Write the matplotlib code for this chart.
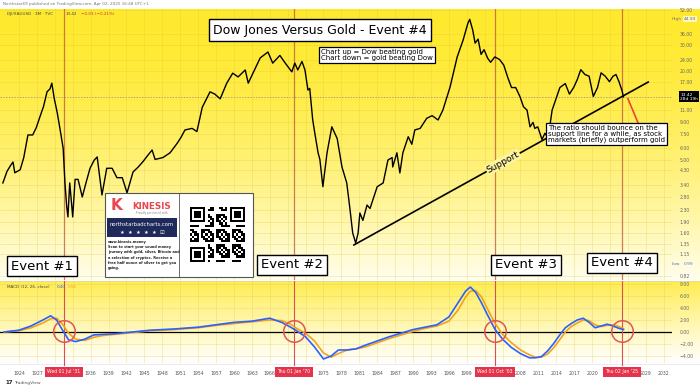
import numpy as np
import matplotlib.pyplot as plt
from matplotlib.patches import Rectangle
from matplotlib.ticker import NullLocator
from matplotlib.transforms import blended_transform_factory as blend

W, H = 700, 389

# DJI / XAUUSD ratio (decimal year, ratio)
years = [1921.3, 1922.0, 1922.6, 1923.0, 1923.3, 1924.2, 1924.8, 1925.5, 1926.3, 1926.9,
         1927.5, 1928.1, 1928.7, 1929.2, 1929.5, 1929.9, 1930.4, 1930.9, 1931.4, 1931.7,
         1932.0, 1932.2, 1932.5, 1933.0, 1933.4, 1933.9, 1934.6, 1935.3, 1935.9, 1936.6,
         1937.1, 1937.9, 1938.7, 1939.6, 1940.4, 1941.3, 1942.1, 1943.1, 1944.0, 1944.8,
         1945.6, 1946.3, 1946.8, 1948.1, 1949.3, 1950.5, 1951.2, 1951.8, 1953.0, 1953.8,
         1954.7, 1955.4, 1956.0, 1956.8, 1957.7, 1958.8, 1959.8, 1960.7, 1961.9, 1962.4,
         1963.2, 1964.4, 1965.7, 1966.5, 1967.7, 1968.6, 1969.7, 1970.2, 1970.7, 1971.4,
         1971.9, 1972.4, 1972.7, 1973.2, 1973.6, 1974.1, 1974.4, 1974.9, 1975.6, 1976.4,
         1977.3, 1978.1, 1978.9, 1979.4, 1979.9, 1980.4, 1980.8, 1981.1, 1981.6, 1982.3,
         1982.8, 1984.0, 1985.0, 1985.8, 1986.5, 1986.6, 1987.3, 1987.8, 1988.3, 1989.2,
         1989.8, 1990.3, 1991.2, 1992.3, 1993.2, 1994.2, 1995.0, 1996.2, 1997.4, 1998.4,
         1999.2, 1999.5, 2000.0, 2000.4, 2000.9, 2001.4, 2001.9, 2002.5, 2003.0, 2003.7,
         2004.5, 2005.2, 2005.9, 2006.5, 2007.2, 2007.9, 2008.5, 2009.1, 2009.6, 2010.1,
         2010.4, 2010.9, 2011.6, 2012.1, 2012.4, 2012.9, 2013.3, 2013.9, 2014.6, 2015.5,
         2016.2, 2016.9, 2017.5, 2018.1, 2018.8, 2019.5, 2020.2, 2020.9, 2021.5, 2022.2,
         2022.9, 2023.5, 2024.0, 2024.5, 2025.0, 2025.25]
ratio = [3.5, 4.2, 4.6, 4.85, 4.1, 4.3, 5.2, 7.4, 7.4, 8.3,
         9.8, 11.5, 14.5, 15.2, 16.6, 13.1, 10.5, 8.0, 6.0, 3.5,
         2.4, 2.06, 3.5, 2.06, 3.7, 3.7, 2.81, 3.6, 4.4, 5.0,
         5.25, 2.9, 4.4, 4.4, 3.8, 3.8, 3.0, 4.15, 4.5, 4.9,
         5.4, 5.85, 5.05, 5.2, 5.6, 6.5, 7.2, 8.0, 8.2, 7.8,
         11.4, 13.0, 14.5, 14.0, 13.0, 16.6, 19.4, 18.3, 20.4, 16.6,
         19.4, 24.6, 27.0, 22.7, 25.6, 22.7, 19.8, 22.7, 20.4, 23.3,
         20.4, 14.9, 15.3, 9.35, 7.4, 5.6, 5.05, 3.3, 5.6, 8.4,
         7.0, 4.49, 3.5, 2.4, 1.6, 1.37, 1.6, 2.19, 1.95, 2.48,
         2.35, 3.3, 3.5, 5.0, 5.2, 4.49, 5.6, 4.09, 5.6, 7.2,
         6.4, 8.0, 8.2, 9.6, 10.0, 9.35, 10.9, 15.6, 25.0, 32.6,
         42.4, 44.93, 38.0, 31.0, 33.0, 26.0, 28.0, 24.5, 23.0, 25.0,
         24.0, 22.0, 18.0, 15.5, 15.5, 13.5, 11.5, 10.9, 8.4, 9.0,
         8.2, 8.4, 6.9, 7.6, 7.3, 8.4, 10.9, 12.8, 15.5, 16.5,
         14.0, 15.5, 17.5, 20.5, 19.0, 18.5, 13.5, 15.5, 19.5, 18.5,
         17.0, 18.5, 19.0, 17.0, 14.8, 13.42]

macd_years = [1921.5, 1924, 1926, 1928, 1929.3, 1930.3, 1931.3, 1932.3, 1933.5, 1935,
              1936.5, 1938, 1940, 1943, 1946, 1950, 1954, 1957, 1960, 1963,
              1966, 1968, 1969.5, 1970.5, 1972, 1973.5, 1975, 1976.3, 1977.5, 1979,
              1980.5, 1982, 1984, 1986, 1988, 1990, 1992, 1994, 1996, 1997.5,
              1998.8, 1999.6, 2000.5, 2001.5, 2002.5, 2003.7, 2005, 2006.5, 2008, 2009.5,
              2010.5, 2011.5, 2012.5, 2013.5, 2014.5, 2015.5, 2016.5, 2017.5, 2018.5, 2019.5,
              2020.5, 2021.5, 2022.5, 2023.5, 2024.5, 2025.25]
macd_line = [0.0, 0.3, 1.0, 2.0, 2.7, 2.0, 0.3, -1.3, -1.6, -1.2,
             -0.5, -0.4, -0.3, 0.0, 0.3, 0.5, 0.8, 1.2, 1.6, 1.8,
             2.3, 1.6, 0.8, 0.2, -0.8, -2.5, -4.5, -4.0, -3.0, -3.0,
             -2.8, -2.2, -1.5, -0.8, -0.2, 0.4, 0.8, 1.2, 2.5, 4.8,
             6.8, 7.5, 6.6, 4.8, 2.8, 0.5, -1.2, -2.6, -3.6, -4.3,
             -4.3, -4.1, -3.2, -2.0, -0.6, 0.7, 1.4, 2.0, 2.3, 1.6,
             0.7, 1.0, 1.3, 1.0, 0.6, 0.40]
signal_line = [0.0, 0.2, 0.7, 1.5, 2.2, 2.3, 1.3, -0.2, -1.2, -1.4,
               -0.9, -0.6, -0.4, -0.1, 0.2, 0.4, 0.7, 1.1, 1.4, 1.7,
               2.0, 1.9, 1.3, 0.6, -0.2, -1.5, -3.5, -4.2, -3.6, -3.0,
               -2.8, -2.5, -1.8, -1.1, -0.5, 0.1, 0.6, 1.0, 1.8, 3.6,
               5.8, 6.8, 6.9, 5.8, 3.8, 1.5, -0.4, -1.8, -3.0, -3.8,
               -4.2, -4.2, -3.7, -2.7, -1.4, 0.0, 0.9, 1.5, 2.0, 1.9,
               1.2, 0.9, 1.1, 1.2, 0.9, 0.56]

event_years = [1931.5, 1970.0, 2003.75, 2025.0]
event_dates = ["Wed 01 Jul '31", "Thu 01 Jan '70", "Wed 01 Oct '03", "Thu 02 Jan '25"]
event_names = ['Event #1', 'Event #2', 'Event #3', 'Event #4']

support_years = [1980.1, 2029.4]
support_vals = [1.33, 16.9]
arrow_from = (2025.8, 13.6)
arrow_to = (2028.9, 6.84)

last_price = 13.42
high_price = 44.93
low_price = 0.99

price_ticks = [0.82, 1.15, 1.35, 1.6, 1.9, 2.3, 2.8, 3.4, 4.3, 5.0, 6.0, 7.5, 9.0,
               11.0, 17.0, 20.0, 24.0, 30.0, 36.0, 52.0]
macd_ticks = [8, 6, 4, 2, 0, -2, -4]
year_labels = [1924, 1927, 1936, 1939, 1942, 1945, 1948, 1951, 1954, 1957, 1960, 1963,
               1966, 1975, 1978, 1981, 1984, 1987, 1990, 1993, 1996, 1999, 2008, 2011,
               2014, 2017, 2020, 2029, 2032]
grid_years = list(range(1924, 2033, 3))

x_lim = (1920.82, 2033.38)

fig = plt.figure(figsize=(7, 3.89), dpi=100)
fig.patch.set_facecolor('white')


def px(x0, y0, x1, y1):
    return [x0 / W, 1 - y1 / H, (x1 - x0) / W, (y1 - y0) / H]


def band(top, bot, power):
    t = np.linspace(0, 1, 200)[:, None] ** power
    return (np.array(top) * (1 - t) + np.array(bot) * t)[:, None, :]


# background gradients
bg = fig.add_axes([0, 0, 1, 1], zorder=0)
bg.imshow(band((1.0, 0.915, 0.18), (1.0, 0.995, 0.93), 1.7),
          extent=[0, W, 280, 9], aspect='auto')
bg.imshow(band((1.0, 0.925, 0.30), (1.0, 1.0, 1.0), 0.9),
          extent=[0, W, 363, 281], aspect='auto')
bg.plot([0, W], [280.5, 280.5], color='#e0d9a0', lw=0.6)
bg.plot([0, W], [363.5, 363.5], color='#e6e6e6', lw=0.6)
bg.set_xlim(0, W)
bg.set_ylim(H, 0)
bg.axis('off')

grid_kw = dict(color='#d8c23a', alpha=0.35, lw=0.5)

# main pane
ax = fig.add_axes(px(0, 9, 672, 280), zorder=1)
ax.patch.set_alpha(0)
ax.set_yscale('log')
ax.set_xlim(*x_lim)
ax.set_ylim(0.770, 52.8)
for s in ax.spines.values():
    s.set_visible(False)
ax.yaxis.tick_right()
ax.set_yticks(price_ticks)
ax.set_yticklabels([f'{v:.2f}' for v in price_ticks])
ax.yaxis.set_minor_locator(NullLocator())
ax.set_xticks(grid_years)
ax.tick_params(axis='x', length=0, labelbottom=False)
ax.tick_params(axis='y', length=0, pad=5.5, labelsize=3.3, labelcolor='#666666')
ax.grid(True, **grid_kw)

ax.plot(years, ratio, color='black', lw=1.0, zorder=3)
ax.axhline(last_price, color='#8a8a8a', lw=0.5, ls=(0, (2, 2)), zorder=2)
for e in event_years:
    ax.axvline(e, color='#c0603a', lw=0.9, alpha=0.8, zorder=2)

ax.plot(support_years, support_vals, color='black', lw=1.2, zorder=4)
ax.annotate('', xy=arrow_to, xytext=arrow_from,
            arrowprops=dict(arrowstyle='->', color='#e8472e', lw=1.2,
                            mutation_scale=12), zorder=4)

tr = blend(ax.transAxes, ax.transData)
ax.text(1.012, last_price, f'{last_price:.2f}\n28d 19h', transform=tr, fontsize=3.2,
        color='white', va='center', ha='left', linespacing=1.0, clip_on=False, zorder=6,
        bbox=dict(boxstyle='square,pad=0.3', fc='black', ec='none'))
ax.text(1.0, high_price, 'High', transform=tr, fontsize=3.2, color='#777777',
        va='center', ha='left', clip_on=False)
ax.text(1.017, high_price, f'{high_price:.2f}', transform=tr, fontsize=3.2, color='#666666',
        va='center', ha='left', clip_on=False,
        bbox=dict(boxstyle='square,pad=0.2', fc='#fff7c0', ec='none'))
ax.text(1.0, low_price, 'Low', transform=tr, fontsize=3.2, color='#5577aa',
        va='center', ha='left', clip_on=False)
ax.text(1.017, low_price, f'{low_price:.2f}', transform=tr, fontsize=3.2, color='#5577aa',
        va='center', ha='left', clip_on=False,
        bbox=dict(boxstyle='square,pad=0.2', fc='#fffbe6', ec='none'))

# MACD pane
ax2 = fig.add_axes(px(0, 281, 672, 363), zorder=1)
ax2.patch.set_alpha(0)
ax2.set_xlim(*x_lim)
ax2.set_ylim(-5.17, 8.5)
for s in ax2.spines.values():
    s.set_visible(False)
ax2.yaxis.tick_right()
ax2.set_yticks(macd_ticks)
ax2.set_yticklabels([f'{v:.2f}'.replace('-', '\u2212') for v in macd_ticks])
ax2.set_xticks(grid_years)
ax2.set_xticklabels([str(y) if y in year_labels else '' for y in grid_years])
ax2.tick_params(axis='x', length=0, pad=5.5, labelsize=3.3, labelcolor='#555555')
ax2.tick_params(axis='y', length=0, pad=5.5, labelsize=3.3, labelcolor='#666666')
ax2.grid(True, **grid_kw)

ax2.axhline(0, color='black', lw=0.9, zorder=2)
ax2.plot(macd_years, signal_line, color='#f5a11c', lw=1.2, zorder=3)
ax2.plot(macd_years, macd_line, color='#2962ff', lw=1.2, zorder=3)
tr2 = blend(ax2.transData, ax2.transAxes)
for e, d in zip(event_years, event_dates):
    ax2.plot([e, e], [-0.02, 1], transform=tr2, color='#d95050', lw=0.8,
             clip_on=False, zorder=2)
    ax2.plot(e, 0.1, marker='o', ms=15.5, mfc='none', mec='#e05555', mew=1.1, zorder=4)
    ax2.text(e, -0.105, d, transform=tr2, fontsize=3.3, color='white', ha='center',
             va='center', clip_on=False, zorder=5,
             bbox=dict(boxstyle='square,pad=0.55', fc='#e5334b', ec='none'))

# overlay in pixel coordinates for the annotations
ov = fig.add_axes([0, 0, 1, 1], zorder=10)
ov.patch.set_alpha(0)

ov.text(3, 4, 'Northstar69 published on TradingView.com, Apr 02, 2025 16:48 UTC+1',
        fontsize=3.0, color='#777777', va='center')
ov.text(7, 14, 'DJI/XAUUSD \u00b7 3M \u00b7 TVC', fontsize=3.0, color='#444444', va='center')
ov.text(66, 14, '13.42', fontsize=3.0, color='#444444', va='center')
ov.text(81, 14, '\u22120.03 (\u22120.21%)', fontsize=3.0, color='#cc3333', va='center')
ov.text(7, 287, 'MACD (12, 26, close)', fontsize=3.0, color='#444444', va='center')
ov.text(57, 287, '0.40', fontsize=3.0, color='#2962ff', va='center')
ov.text(68, 287, '0.56', fontsize=3.0, color='#f5a11c', va='center')
ov.text(5, 383, '17', fontsize=4.0, color='#222222', fontweight='bold', va='center')
ov.text(14, 383, 'TradingView', fontsize=3.2, color='#555555', va='center')

box = dict(boxstyle='square,pad=0.3', fc='white', ec='black', lw=0.9)
ov.text(320, 30, 'Dow Jones Versus Gold - Event #4', fontsize=9, ha='center', va='center',
        bbox=dict(boxstyle='square,pad=0.35', fc='white', ec='black', lw=1.0))
ov.text(321, 55, 'Chart up = Dow beating gold\nChart down = gold beating Dow', fontsize=5,
        ha='left', va='center', linespacing=0.95, bbox=box)
ov.text(548, 134, 'The ratio should bounce on the\nsupport line for a while, as stock\n'
        'markets (briefly) outperform gold', fontsize=5, ha='left', va='center',
        linespacing=0.95, bbox=box)
ov.text(503, 162, 'Support', fontsize=6.5, rotation=29, rotation_mode='anchor',
        ha='center', va='center',
        bbox=dict(boxstyle='square,pad=0.1', fc='#fff5a0', ec='none'))

event_px = [(42, 266), (292, 265), (526, 265), (622, 263)]
for (x, y), name in zip(event_px, event_names):
    ov.text(x, y, name, fontsize=9.5, ha='center', va='center',
            bbox=dict(boxstyle='square,pad=0.3', fc='white', ec='black', lw=1.0))

# sponsor card
ov.add_patch(Rectangle((105, 193), 148, 84, fc='white', ec='#555555', lw=0.8, zorder=1))
ov.plot([179, 179], [193, 277], color='#555555', lw=0.6, zorder=2)
ov.text(116, 205, 'K', fontsize=11, color='#e8474f', fontweight='bold',
        ha='center', va='center')
ov.text(152, 206, 'KINESIS', fontsize=6.3, color='#e8474f', fontweight='bold',
        ha='center', va='center')
ov.text(152, 213, 'Proudly partnered with', fontsize=2.0, color='#888888',
        ha='center', va='center')
ov.add_patch(Rectangle((107, 218), 70, 19, fc='#1f2a5a', ec='none', zorder=2))
ov.text(142, 224, 'northstarbadcharts.com', fontsize=3.8, color='white',
        ha='center', va='center')
ov.text(142, 232, '\u2605  \u2605  \u2605  \u2605  \u2605  \u2611', fontsize=3.8,
        color='white', ha='center', va='center')
card_lines = ['www.kinesis.money', 'Scan to start your sound money',
              'journey with gold, silver, Bitcoin and', 'a selection of cryptos. Receive a',
              'free half ounce of silver to get you', 'going.']
for i, line in enumerate(card_lines):
    ov.text(108, 242 + i * 5.2, line, fontsize=2.5, color='#222222', va='center',
            fontweight='bold')

n = 25
qr = np.zeros((n, n))
for i in range(n):
    for j in range(n):
        qr[i, j] = ((i * 3 + j * 5 + i * j) % 7) < 4
for ci, cj in [(0, 0), (0, n - 7), (n - 7, 0)]:
    for i in range(-1, 8):
        for j in range(-1, 8):
            a, b = ci + i, cj + j
            if 0 <= a < n and 0 <= b < n:
                r = max(abs(i - 3), abs(j - 3))
                qr[a, b] = 1 if r in (0, 1, 3) else 0
ov.imshow(qr, cmap='gray_r', extent=[190, 245, 262, 207], interpolation='nearest',
          aspect='auto', zorder=3)

ov.set_xlim(0, W)
ov.set_ylim(H, 0)
ov.axis('off')

fig.savefig('out.png', dpi=100)
